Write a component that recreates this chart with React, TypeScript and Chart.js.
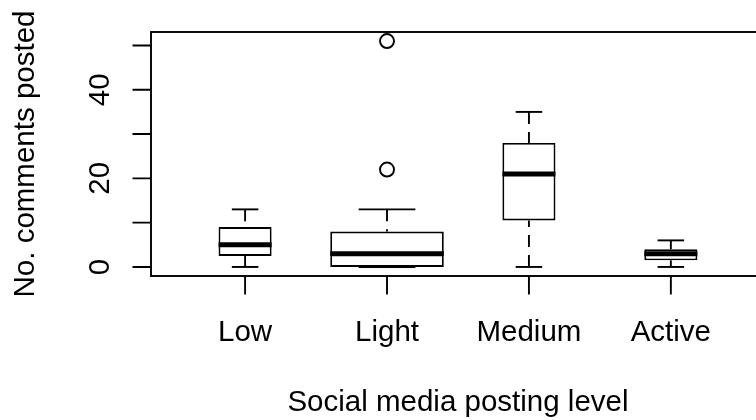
import React, { useEffect, useRef } from 'react';
import { Chart, registerables } from 'chart.js';

Chart.register(...registerables);

if (typeof document !== 'undefined') {
  document.body.style.margin = '0';
  document.body.style.overflow = 'hidden';
}

// ---------- data ----------
const categories = ['Low', 'Light', 'Medium', 'Active'];
const whiskerLow = [0, 0, 0, 0];
const quartile1 = [2.5, 0, 10.5, 1.5];
const medians = [5, 3, 21, 3];
const quartile3 = [9, 8, 28, 4];
const whiskerHigh = [13, 13, 35, 6];
const outliers: number[][] = [[], [22, 51], [], []];
const yTickValues = [0, 10, 20, 30, 40, 50];
const yTickLabels = ['0', '', '20', '', '40', ''];
const xTitle = 'Social media posting level';
const yTitle = 'No. comments posted';

// ---------- style ----------
const BOX_FRACTION = [0.374, 0.8, 0.374, 0.374];
const INK = '#000';
const FONT = '29.5px "Liberation Sans", Arial, Helvetica, sans-serif';
const X_RANGE = [0.337, 4.6];
const X_FULL = [0.34, 4.66];
const Y_RANGE = [-2.04, 53.04];
const TICK = 18.5;
const LW = 1.9;

function buildDatasets() {
  const ds: any[] = [];
  categories.forEach((c, i) => {
    const xv = i + 1;
    const hw = BOX_FRACTION[i] / 2;
    const sw = BOX_FRACTION[i] / 4;
    ds.push({
      type: 'bar',
      label: c,
      data: [{ x: xv, y: [quartile1[i], quartile3[i]] }],
      backgroundColor: '#fff',
      borderColor: INK,
      borderWidth: LW,
      borderSkipped: false,
      barPercentage: BOX_FRACTION[i],
      categoryPercentage: 1,
      grouped: false,
      order: 2,
    });
    const lineBase = {
      type: 'line',
      borderColor: INK,
      pointRadius: 0,
      fill: false,
      tension: 0,
    };
    ds.push({ ...lineBase, label: c + ' upper whisker', data: [{ x: xv, y: whiskerHigh[i] }, { x: xv, y: quartile3[i] }], borderWidth: LW, borderDash: [12, 8], order: 3 });
    ds.push({ ...lineBase, label: c + ' lower whisker', data: [{ x: xv, y: whiskerLow[i] }, { x: xv, y: quartile1[i] }], borderWidth: LW, borderDash: [12, 8], order: 3 });
    ds.push({ ...lineBase, label: c + ' upper staple', data: [{ x: xv - sw, y: whiskerHigh[i] }, { x: xv + sw, y: whiskerHigh[i] }], borderWidth: LW, order: 3 });
    ds.push({ ...lineBase, label: c + ' lower staple', data: [{ x: xv - sw, y: whiskerLow[i] }, { x: xv + sw, y: whiskerLow[i] }], borderWidth: LW, order: 3 });
    ds.push({ ...lineBase, label: c + ' median', data: [{ x: xv - hw, y: medians[i] }, { x: xv + hw, y: medians[i] }], borderWidth: 5, order: 1 });
  });
  const pts: { x: number; y: number }[] = [];
  outliers.forEach((arr, i) => arr.forEach((v) => pts.push({ x: i + 1, y: v })));
  ds.push({
    type: 'scatter',
    label: 'outliers',
    data: pts,
    pointRadius: 7,
    pointHoverRadius: 7,
    pointBorderWidth: LW,
    pointBorderColor: INK,
    pointBackgroundColor: 'rgba(0,0,0,0)',
    order: 0,
  });
  return ds;
}

const rAxesPlugin = {
  id: 'rAxes',
  afterDatasetsDraw(chart: any) {
    const { ctx, chartArea: a, scales } = chart;
    const x = scales.x;
    const y = scales.y;
    ctx.save();
    ctx.strokeStyle = INK;
    ctx.fillStyle = INK;
    ctx.lineWidth = LW;
    const right = x.getPixelForValue(X_FULL[1]);
    ctx.strokeRect(a.left, a.top, right - a.left, a.bottom - a.top);
    ctx.beginPath();
    yTickValues.forEach((v) => {
      const py = y.getPixelForValue(v);
      ctx.moveTo(a.left - TICK, py);
      ctx.lineTo(a.left, py);
    });
    categories.forEach((_, i) => {
      const px = x.getPixelForValue(i + 1);
      ctx.moveTo(px, a.bottom);
      ctx.lineTo(px, a.bottom + TICK);
    });
    ctx.stroke();

    ctx.font = FONT;
    ctx.textAlign = 'center';
    ctx.textBaseline = 'alphabetic';
    categories.forEach((c, i) => {
      ctx.fillText(c, x.getPixelForValue(i + 1), a.bottom + 65);
    });
    const cx = (x.getPixelForValue(X_FULL[0]) + right) / 2;
    ctx.fillText(xTitle, cx, a.bottom + 135);
    yTickValues.forEach((v, i) => {
      if (!yTickLabels[i]) return;
      ctx.save();
      ctx.translate(a.left - 42.5, y.getPixelForValue(v));
      ctx.rotate(-Math.PI / 2);
      ctx.fillText(yTickLabels[i], 0, 0);
      ctx.restore();
    });
    ctx.save();
    ctx.translate(a.left - 117, (a.top + a.bottom) / 2);
    ctx.rotate(-Math.PI / 2);
    ctx.fillText(yTitle, 0, 0);
    ctx.restore();
    ctx.restore();
  },
};

export default function App() {
  const canvasRef = useRef<HTMLCanvasElement | null>(null);

  useEffect(() => {
    document.body.style.margin = '0';
    const canvas = canvasRef.current;
    if (!canvas) return;
    const chart = new Chart(canvas, {
      type: 'bar',
      data: { datasets: buildDatasets() },
      options: {
        animation: false,
        responsive: false,
        devicePixelRatio: 1,
        layout: { autoPadding: false, padding: { left: 151, top: 32, right: 0, bottom: 144 } },
        plugins: { legend: { display: false }, tooltip: { enabled: false } },
        scales: {
          x: {
            type: 'linear',
            min: X_RANGE[0],
            max: X_RANGE[1],
            offset: false,
            display: false,
            afterBuildTicks: (s: any) => {
              s.ticks = categories.map((_, i) => ({ value: i + 1 }));
            },
          },
          y: {
            type: 'linear',
            min: Y_RANGE[0],
            max: Y_RANGE[1],
            beginAtZero: false,
            display: false,
            afterBuildTicks: (s: any) => {
              s.ticks = yTickValues.map((v) => ({ value: v }));
            },
          },
        },
      } as any,
      plugins: [rAxesPlugin],
    });
    return () => chart.destroy();
  }, []);

  return (
    <div style={{ position: 'absolute', left: 0, top: 0, width: 756, height: 420, background: '#fff' }}>
      <canvas ref={canvasRef} width={756} height={420} style={{ display: 'block', width: 756, height: 420 }} />
    </div>
  );
}
